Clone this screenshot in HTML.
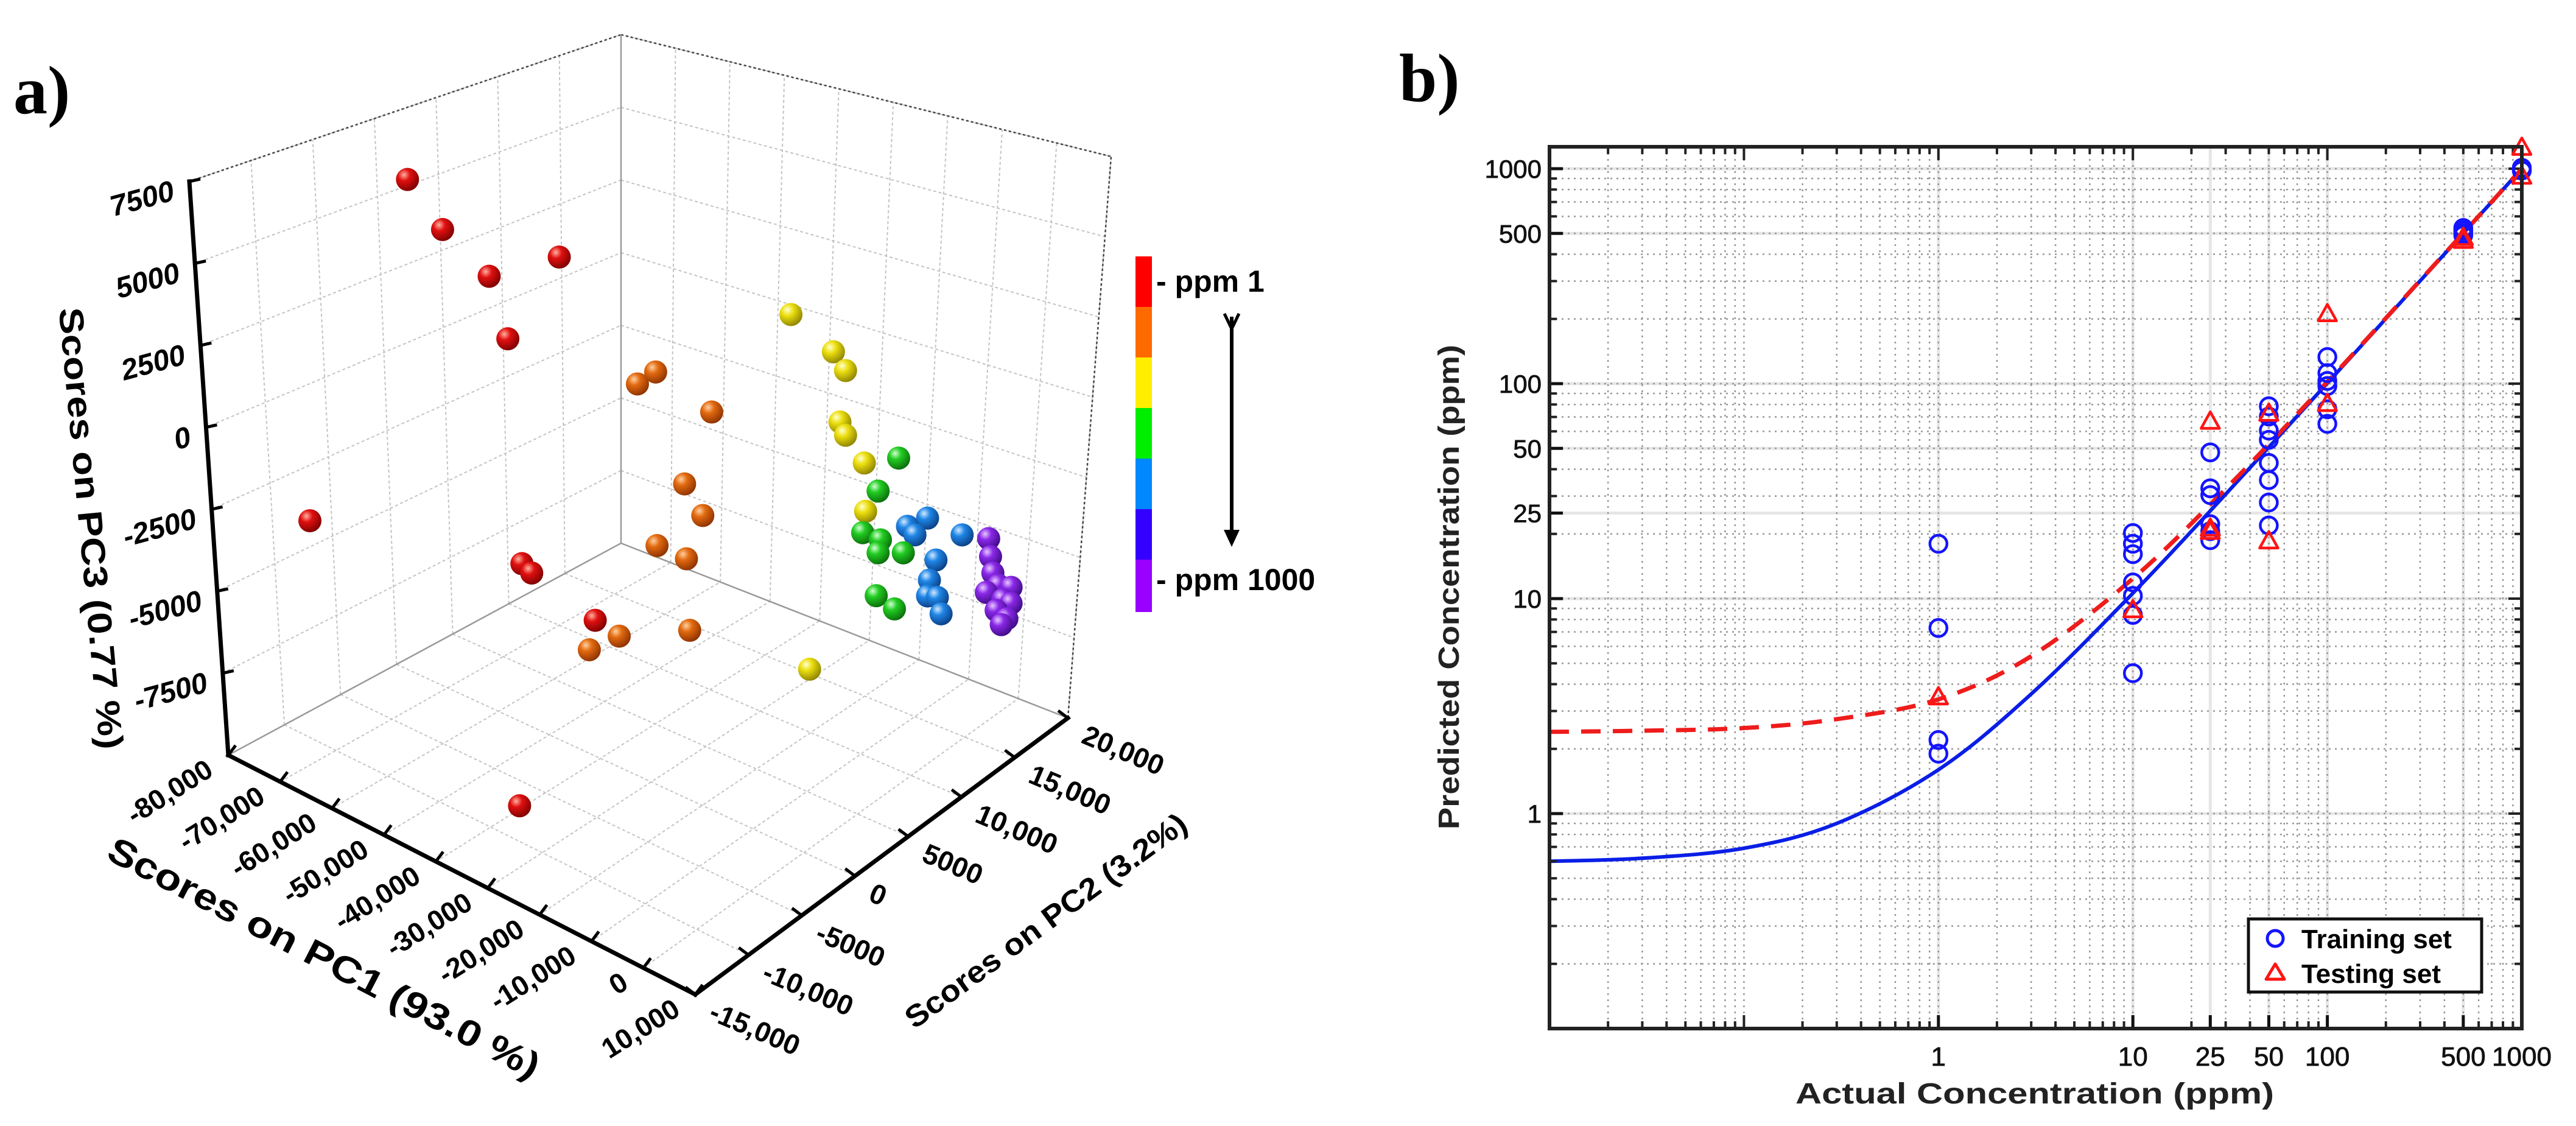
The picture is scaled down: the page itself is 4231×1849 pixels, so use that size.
<!DOCTYPE html>
<html><head><meta charset="utf-8"><style>
html,body{margin:0;padding:0;background:#fff;}
svg{display:block;font-family:"Liberation Sans",sans-serif;}
</style></head><body>
<svg id="fig" width="4231" height="1849" viewBox="0 0 4231 1849" xmlns="http://www.w3.org/2000/svg">
<defs>
<radialGradient id="g-red" cx="0.35" cy="0.3" r="0.75"><stop offset="0" stop-color="#ffb0a0"/><stop offset="0.35" stop-color="#e01010"/><stop offset="1" stop-color="#7a0000"/></radialGradient>
<radialGradient id="g-orange" cx="0.35" cy="0.3" r="0.75"><stop offset="0" stop-color="#ffd0a0"/><stop offset="0.35" stop-color="#e26a10"/><stop offset="1" stop-color="#8a3000"/></radialGradient>
<radialGradient id="g-yellow" cx="0.35" cy="0.3" r="0.75"><stop offset="0" stop-color="#ffffd0"/><stop offset="0.35" stop-color="#ecdf10"/><stop offset="1" stop-color="#8a8000"/></radialGradient>
<radialGradient id="g-green" cx="0.35" cy="0.3" r="0.75"><stop offset="0" stop-color="#d0ffd0"/><stop offset="0.35" stop-color="#22cc22"/><stop offset="1" stop-color="#0a6a0a"/></radialGradient>
<radialGradient id="g-blue" cx="0.35" cy="0.3" r="0.75"><stop offset="0" stop-color="#d0e8ff"/><stop offset="0.35" stop-color="#1f86e6"/><stop offset="1" stop-color="#0a3c80"/></radialGradient>
<radialGradient id="g-purple" cx="0.35" cy="0.3" r="0.75"><stop offset="0" stop-color="#e8c8ff"/><stop offset="0.35" stop-color="#8a28e8"/><stop offset="1" stop-color="#3c0a80"/></radialGradient>
<clipPath id="plotclip"><rect x="2545" y="241" width="1597" height="1448"/></clipPath>
</defs>

<text x="22" y="186" font-family="Liberation Serif, serif" font-weight="bold" font-size="112">a)</text>
<text x="2298" y="166" font-family="Liberation Serif, serif" font-weight="bold" font-size="112">b)</text>

<g id="pa"></g>

<g id="cbar">
  <rect x="1865" y="421" width="27" height="84" fill="#ff0000"/>
  <rect x="1865" y="504" width="27" height="84" fill="#ff6a00"/>
  <rect x="1865" y="587" width="27" height="84" fill="#ffee00"/>
  <rect x="1865" y="670" width="27" height="84" fill="#00ee00"/>
  <rect x="1865" y="753" width="27" height="84" fill="#0088ff"/>
  <rect x="1865" y="836" width="27" height="84" fill="#3300ff"/>
  <rect x="1865" y="919" width="27" height="86" fill="#9900ff"/>
  <text x="1899" y="479" font-weight="bold" font-size="50">- ppm 1</text>
  <text x="1899" y="969" font-weight="bold" font-size="50">- ppm 1000</text>
  <line x1="2023" y1="520" x2="2023" y2="880" stroke="#000" stroke-width="6"/>
  <path d="M2011 515 L2023 540 L2035 515" fill="none" stroke="#000" stroke-width="5"/>
  <path d="M2010 870 L2036 870 L2023 898 Z" fill="#000"/>
</g>

<g id="pb"></g>
</svg>
<script>
// ---------- Panel b data ----------
const trainX = [1,1,1,1, 10,10,10,10,10,10,10, 25,25,25,25,25,25, 50,50,50,50,50,50,50,50, 100,100,100,100,100,100, 500,500,500,500, 1000,1000];
const trainY = [18,7.3,2.2,1.9, 20.2,18,16.1,11.9,10.3,8.4,4.5, 47.9,32.6,30.3,22.2,20.6,18.7, 78.5,70.3,60.5,54.8,42.8,35.6,28,21.9, 133,112,103,97.5,76,65, 530,515,500,490, 1010,980];
const testX = [1,10,25,25,25,50,50,100,100,500,500,1000,1000];
const testY = [3.5,8.9,67,21.3,20.6,73,18.6,212,81,480,465,1260,925];
const fitX = [0.01,0.03,0.1,0.3,1,3,10,30,100,300,1000];
const fitTrainY = [0.6,0.62,0.69,0.9,1.6,3.6,10.6,30.6,100.6,300.6,1000];
const fitTestY = [2.4,2.43,2.5,2.75,3.4,5.4,12.4,32.4,102,302,1000];
const xTicks = [1,10,25,50,100,500,1000];
const xTickLabels = ["1","10","25","50","100","500","1000"];
const yTicks = [1,10,25,50,100,500,1000];
const yTickLabels = ["1","10","25","50","100","500","1000"];

// ---------- Panel a data ----------
const groups = ["red","orange","yellow","green","blue","purple"];
const pc1Red = [-56240,-49480,-40500,-26990,-36900,-75050,-34190,-32300,-20060,-34640];
const pc2Red = [-9750,-9750,-9750,-9750,-9750,-9750,-9750,-9750,-9750,-9750];
const pc3Red = [9075,8050,7320,9080,5630,-3420,-1320,-1460,-1930,-9090];
const pc1Orange = [-33470,-29960,-19160,-24380,-20870,-29690,-24020,-36980,-42740,-23390];
const pc2Orange = [750,750,750,750,750,750,750,750,750,750];
const pc3Orange = [1830,2510,2150,-590,-1300,-3010,-2950,-6520,-7445,-5180];
const pc1Yellow = [-14660,-6470,-4130,-5210,-4130,-520,-260,-11060];
const pc2Yellow = [6000,6000,6000,6000,6000,6000,6000,6000];
const pc3Yellow = [4320,3825,3425,1690,1360,780,-740,-6700];
const pc1Green = [-4670,-8630,-11600,-8180,-8630,-3770,-8990,-5480];
const pc2Green = [11250,11250,11250,11250,11250,11250,11250,11250];
const pc3Green = [-740,-2130,-3710,-3650,-4100,-3690,-5500,-5625];
const pc1Blue = [-6560,-2690,-5120,3970,-1070,-2330,-2690,-800,-80];
const pc2Blue = [13000,13000,13000,13000,13000,13000,13000,13000,13000];
const pc3Blue = [-3520,-2930,-3670,-2900,-4130,-4880,-5415,-5300,-5765];
const pc1Purple = [5500,5860,6310,7390,9820,5050,8200,9820,6940,9010,7930];
const pc2Purple = [14750,14750,14750,14750,14750,14750,14750,14750,14750,14750,14750];
const pc3Purple = [-3330,-3875,-4360,-4660,-4520,-5085,-5050,-5030,-5500,-5590,-5870];
const pc1Ticks = [-80000,-70000,-60000,-50000,-40000,-30000,-20000,-10000,0,10000];
const pc1TickLabels = ["-80,000","-70,000","-60,000","-50,000","-40,000","-30,000","-20,000","-10,000","0","10,000"];
const pc2Ticks = [-15000,-10000,-5000,0,5000,10000,15000,20000];
const pc2TickLabels = ["-15,000","-10,000","-5000","0","5000","10,000","15,000","20,000"];
const pc3Ticks = [-7500,-5000,-2500,0,2500,5000,7500];
const pc3TickLabels = ["-7500","-5000","-2500","0","2500","5000","7500"];

const NS = "http://www.w3.org/2000/svg";
function mk(tag, attrs, parent){const e=document.createElementNS(NS,tag);for(const k in attrs)e.setAttribute(k,attrs[k]);parent.appendChild(e);return e;}

// ================= Panel a =================
const pa = document.getElementById('pa');
const LB=[375,1240], F=[1142,1633], R=[1754,1179], B=[1020,892];
const offL=[-64,-942], offB=[0,-835], offR=[71,-922], offF=[7,-1029];
const PC1MIN=-80000, PC1MAX=10000, PC2MIN=-15000, PC2MAX=20000, PC3MIN=-10000, PC3MAX=7500;
function nu(p){return (p-PC1MIN)/(PC1MAX-PC1MIN);}
function nv(p){return (p-PC2MIN)/(PC2MAX-PC2MIN);}
function nw(p){return (p-PC3MIN)/(PC3MAX-PC3MIN);}
function bil(a,b,c,d,u,v){ // a at (0,0), b at (1,0), c at (1,1), d at (0,1)
  return [a[0]*(1-u)*(1-v)+b[0]*u*(1-v)+c[0]*u*v+d[0]*(1-u)*v, a[1]*(1-u)*(1-v)+b[1]*u*(1-v)+c[1]*u*v+d[1]*(1-u)*v];}
function boxPt(u,v,w){const f=bil(LB,F,R,B,u,v);const o=bil(offL,offF,offR,offB,u,v);return [f[0]+w*o[0],f[1]+w*o[1]];}
// affine projection for data points
function proj(p1,p2,p3){const u=nu(p1),v=nv(p2),w=nw(p3);return [375+767*u+612*v, 1240+393*u-454*v-900*w];}

const gridStyle={stroke:"#c4c4c4","stroke-width":2,"stroke-dasharray":"5 4",fill:"none"};
function seg(a,b,style,name){const l=mk('line',Object.assign({x1:a[0],y1:a[1],x2:b[0],y2:b[1]},style),pa);
  
  
  return l;}
// floor grid
pc1Ticks.forEach(t=>{seg(boxPt(nu(t),0,0),boxPt(nu(t),1,0),gridStyle,'floor-grid-pc1');});
pc2Ticks.forEach(t=>{seg(boxPt(0,nv(t),0),boxPt(1,nv(t),0),gridStyle,'floor-grid-pc2');});
// left wall (u=0)
pc2Ticks.forEach(t=>{seg(boxPt(0,nv(t),0),boxPt(0,nv(t),1),gridStyle,'left-wall-grid-vertical');});
pc3Ticks.forEach(t=>{seg(boxPt(0,0,nw(t)),boxPt(0,1,nw(t)),gridStyle,'left-wall-grid-horizontal');});
// right wall (v=1)
pc1Ticks.forEach(t=>{seg(boxPt(nu(t),1,0),boxPt(nu(t),1,1),gridStyle,'right-wall-grid-vertical');});
pc3Ticks.forEach(t=>{seg(boxPt(0,1,nw(t)),boxPt(1,1,nw(t)),gridStyle,'right-wall-grid-horizontal');});
// box edges
const dotted={stroke:"#444","stroke-width":2.5,"stroke-dasharray":"4 4",fill:"none"};
seg(boxPt(0,0,1),boxPt(0,1,1),dotted,'box-top-left-edge');
seg(boxPt(0,1,1),boxPt(1,1,1),dotted,'box-top-right-edge');
seg(boxPt(1,1,0),boxPt(1,1,1),dotted,'box-right-edge');
seg(boxPt(0,1,0),boxPt(0,1,1),{stroke:"#999","stroke-width":2.5,fill:"none"},'box-back-edge');
seg(boxPt(0,0,0),boxPt(0,1,0),{stroke:"#999","stroke-width":2.5,fill:"none"},'box-floor-left-edge');
seg(boxPt(0,1,0),boxPt(1,1,0),{stroke:"#999","stroke-width":2.5,fill:"none"},'box-floor-right-edge');
// axes
const axisStyle={stroke:"#000","stroke-width":7,fill:"none","stroke-linecap":"square"};
seg(boxPt(0,0,0),boxPt(0,0,1),axisStyle,'pc3-axis-line');
seg(boxPt(0,0,0),boxPt(1,0,0),axisStyle,'pc1-axis-line');
seg(boxPt(1,0,0),boxPt(1,1,0),axisStyle,'pc2-axis-line');

// ticks & labels
pc3Ticks.forEach((t,i)=>{
  const p=boxPt(0,0,nw(t));
  seg(p,[p[0]+18,p[1]-4],{stroke:"#000","stroke-width":5},'pc3-tick');
  const tx=mk('text',{x:p[0]-22,y:p[1]+30,"text-anchor":"end","font-size":48,"font-weight":"bold","font-style":"italic",transform:`rotate(-15 ${p[0]-22} ${p[1]+30})`},pa);
  tx.textContent=pc3TickLabels[i];
  
  
});
pc1Ticks.forEach((t,i)=>{
  const p=boxPt(nu(t),0,0);
  seg(p,[p[0]+12,p[1]-16],{stroke:"#000","stroke-width":5},'pc1-tick');
  const x=p[0]-22,y=p[1]+32;
  const tx=mk('text',{x:x,y:y,"text-anchor":"end","font-size":46,"font-weight":"bold",transform:`rotate(-32 ${x} ${y})`},pa);
  tx.textContent=pc1TickLabels[i];
  
  
});
pc2Ticks.forEach((t,i)=>{
  const p=boxPt(1,nv(t),0);
  seg(p,[p[0]-16,p[1]-12],{stroke:"#000","stroke-width":5},'pc2-tick');
  const x=p[0]+20,y=p[1]+40;
  const tx=mk('text',{x:x,y:y,"text-anchor":"start","font-size":46,"font-weight":"bold",transform:`rotate(23 ${x} ${y})`},pa);
  tx.textContent=pc2TickLabels[i];
  
  
});
function title(txt,x,y,ang,len,fs,name){
  const t=mk('text',{x:x,y:y,"text-anchor":"middle","dominant-baseline":"middle","font-size":fs,"font-weight":"bold",textLength:len,lengthAdjust:"spacingAndGlyphs",transform:`rotate(${ang} ${x} ${y})`},pa);
  t.textContent=txt;
  
  
}
title("Scores on PC3 (0.77 %)",145,868,84.7,728,56,'pc3-axis-title');
title("Scores on PC1 (93.0 %)",530,1577,27.4,790,60,'pc1-axis-title');
title("Scores on PC2 (3.2%)",1720,1515,-36.2,560,50,'pc2-axis-title');

// spheres
const groupData=[[pc1Red,pc2Red,pc3Red],[pc1Orange,pc2Orange,pc3Orange],[pc1Yellow,pc2Yellow,pc3Yellow],[pc1Green,pc2Green,pc3Green],[pc1Blue,pc2Blue,pc3Blue],[pc1Purple,pc2Purple,pc3Purple]];
const pts=[];
groupData.forEach((g,gi)=>{g[0].forEach((v,i)=>{const p=proj(g[0][i],g[1][i],g[2][i]);pts.push({x:p[0],y:p[1],g:groups[gi]});});});
pts.sort((a,b)=>a.y-b.y);
pts.forEach(p=>{
  const c=mk('circle',{cx:p.x,cy:p.y,r:19,fill:`url(#g-${p.g})`},pa);
  
  
});

// ================= Panel b =================
const pb=document.getElementById('pb');
const PX0=2545, PX1=4142, PY0=241, PY1=1689;
const XMIN=-2, XMAX=3, YTOPL=3.102, YBOTL=-1;
function X(v){return PX0+(Math.log10(v)-XMIN)/(XMAX-XMIN)*(PX1-PX0);}
function Y(v){return PY1-(Math.log10(v)-YBOTL)/(YTOPL-YBOTL)*(PY1-PY0);}
const gClip=mk('g',{"clip-path":"url(#plotclip)"},pb);


mk('rect',{x:PX0,y:PY0,width:PX1-PX0,height:PY1-PY0,fill:"#fff"},gClip);
// major grid (light solid)
xTicks.forEach(t=>{const l=mk('line',{x1:X(t),x2:X(t),y1:PY0,y2:PY1,stroke:"#e6e6e6","stroke-width":5},gClip);
  
  });
yTicks.forEach(t=>{const l=mk('line',{x1:PX0,x2:PX1,y1:Y(t),y2:Y(t),stroke:"#e6e6e6","stroke-width":5},gClip);
  
  });
// minor dotted grid
for(let e=-2;e<3;e++)for(let k=1;k<10;k++){const v=k*Math.pow(10,e);if(v<=0.01)continue;
  const l=mk('line',{x1:X(v),x2:X(v),y1:PY0,y2:PY1,stroke:"#999","stroke-width":2.5,"stroke-dasharray":"3 7"},gClip);
  
  
  const tk=mk('line',{x1:X(v),x2:X(v),y1:PY1,y2:PY1-(k===1?22:12),stroke:"#222","stroke-width":4},pb);
  
  
  const tk2=mk('line',{x1:X(v),x2:X(v),y1:PY0,y2:PY0+(k===1?22:12),stroke:"#222","stroke-width":4},pb);
  
  
}
for(let e=-1;e<4;e++)for(let k=1;k<10;k++){const v=k*Math.pow(10,e);if(v<=0.1||Math.log10(v)>YTOPL)continue;
  const l=mk('line',{x1:PX0,x2:PX1,y1:Y(v),y2:Y(v),stroke:"#999","stroke-width":2.5,"stroke-dasharray":"3 7"},gClip);
  
  
  const tk=mk('line',{x1:PX0,x2:PX0+(k===1?22:12),y1:Y(v),y2:Y(v),stroke:"#222","stroke-width":4},pb);
  
  
  const tk2=mk('line',{x1:PX1,x2:PX1-(k===1?22:12),y1:Y(v),y2:Y(v),stroke:"#222","stroke-width":4},pb);
  
  
}
// major ticks
xTicks.forEach((t,i)=>{
  const tk=mk('line',{x1:X(t),x2:X(t),y1:PY1,y2:PY1-22,stroke:"#111","stroke-width":5},pb);
  
  
  const tx=mk('text',{x:X(t),y:1750,"text-anchor":"middle","font-size":44,fill:"#111",stroke:"#111","stroke-width":0.8},pb);
  tx.textContent=xTickLabels[i];
  
  
});
yTicks.forEach((t,i)=>{
  const tk=mk('line',{x1:PX0,x2:PX0+22,y1:Y(t),y2:Y(t),stroke:"#111","stroke-width":5},pb);
  
  
  const tx=mk('text',{x:2532,y:Y(t)+15,"text-anchor":"end","font-size":42,fill:"#111",stroke:"#111","stroke-width":0.8},pb);
  tx.textContent=yTickLabels[i];
  
  
});
// fit curves (catmull-rom through sampled points)
function smoothPath(xs,ys){const p=xs.map((x,i)=>[X(x),Y(ys[i])]);let d=`M${p[0][0]},${p[0][1]}`;
  for(let i=0;i<p.length-1;i++){const p0=p[Math.max(0,i-1)],p1=p[i],p2=p[i+1],p3=p[Math.min(p.length-1,i+2)];
    const c1=[p1[0]+(p2[0]-p0[0])/6,p1[1]+(p2[1]-p0[1])/6],c2=[p2[0]-(p3[0]-p1[0])/6,p2[1]-(p3[1]-p1[1])/6];
    d+=` C${c1[0]},${c1[1]} ${c2[0]},${c2[1]} ${p2[0]},${p2[1]}`;}
  return d;}
const cTrain=mk('path',{d:smoothPath(fitX,fitTrainY),fill:"none",stroke:"#0a1ee6","stroke-width":6},gClip);


const cTest=mk('path',{d:smoothPath(fitX,fitTestY),fill:"none",stroke:"#ee1c1c","stroke-width":7,"stroke-dasharray":"32 20"},gClip);


// markers
trainX.forEach((x,i)=>{
  const c=mk('circle',{cx:X(x),cy:Y(trainY[i]),r:14,fill:"none",stroke:"#1414ff","stroke-width":4.5},pb);
  
  
});
testX.forEach((x,i)=>{
  const cx=X(x),cy=Y(testY[i]);
  const t=mk('path',{d:`M${cx-15},${cy+12} L${cx+15},${cy+12} L${cx},${cy-15} Z`,fill:"none",stroke:"#ff1414","stroke-width":4.5,"stroke-linejoin":"round"},pb);
  
  
});
// frame
const fr=mk('rect',{x:PX0,y:PY0,width:PX1-PX0,height:PY1-PY0,fill:"none",stroke:"#222","stroke-width":6},pb);


// axis titles
const xt=mk('text',{x:3342,y:1812,"text-anchor":"middle","font-size":48,"font-weight":"bold",fill:"#222",textLength:786,lengthAdjust:"spacingAndGlyphs"},pb);
xt.textContent="Actual Concentration (ppm)";


const yt=mk('text',{x:2396,y:964,"text-anchor":"middle","font-size":48,"font-weight":"bold",fill:"#222",textLength:796,lengthAdjust:"spacingAndGlyphs",transform:"rotate(-90 2396 964)"},pb);
yt.textContent="Predicted Concentration (ppm)";


// legend
const lg=mk('g',{},pb);


mk('rect',{x:3693,y:1509,width:383,height:120,fill:"#fff",stroke:"#111","stroke-width":5},lg);
const lc=mk('circle',{cx:3737,cy:1541,r:13,fill:"none",stroke:"#1414ff","stroke-width":5},lg);


const ltr=mk('path',{d:"M3722,1608 L3752,1608 L3737,1583 Z",fill:"none",stroke:"#ff1414","stroke-width":5,"stroke-linejoin":"round"},lg);


const l1=mk('text',{x:3780,y:1557,"font-size":44,"font-weight":"bold"},lg);
l1.textContent="Training set";


const l2=mk('text',{x:3780,y:1614,"font-size":44,"font-weight":"bold"},lg);
l2.textContent="Testing set";


</script>
</body></html>
